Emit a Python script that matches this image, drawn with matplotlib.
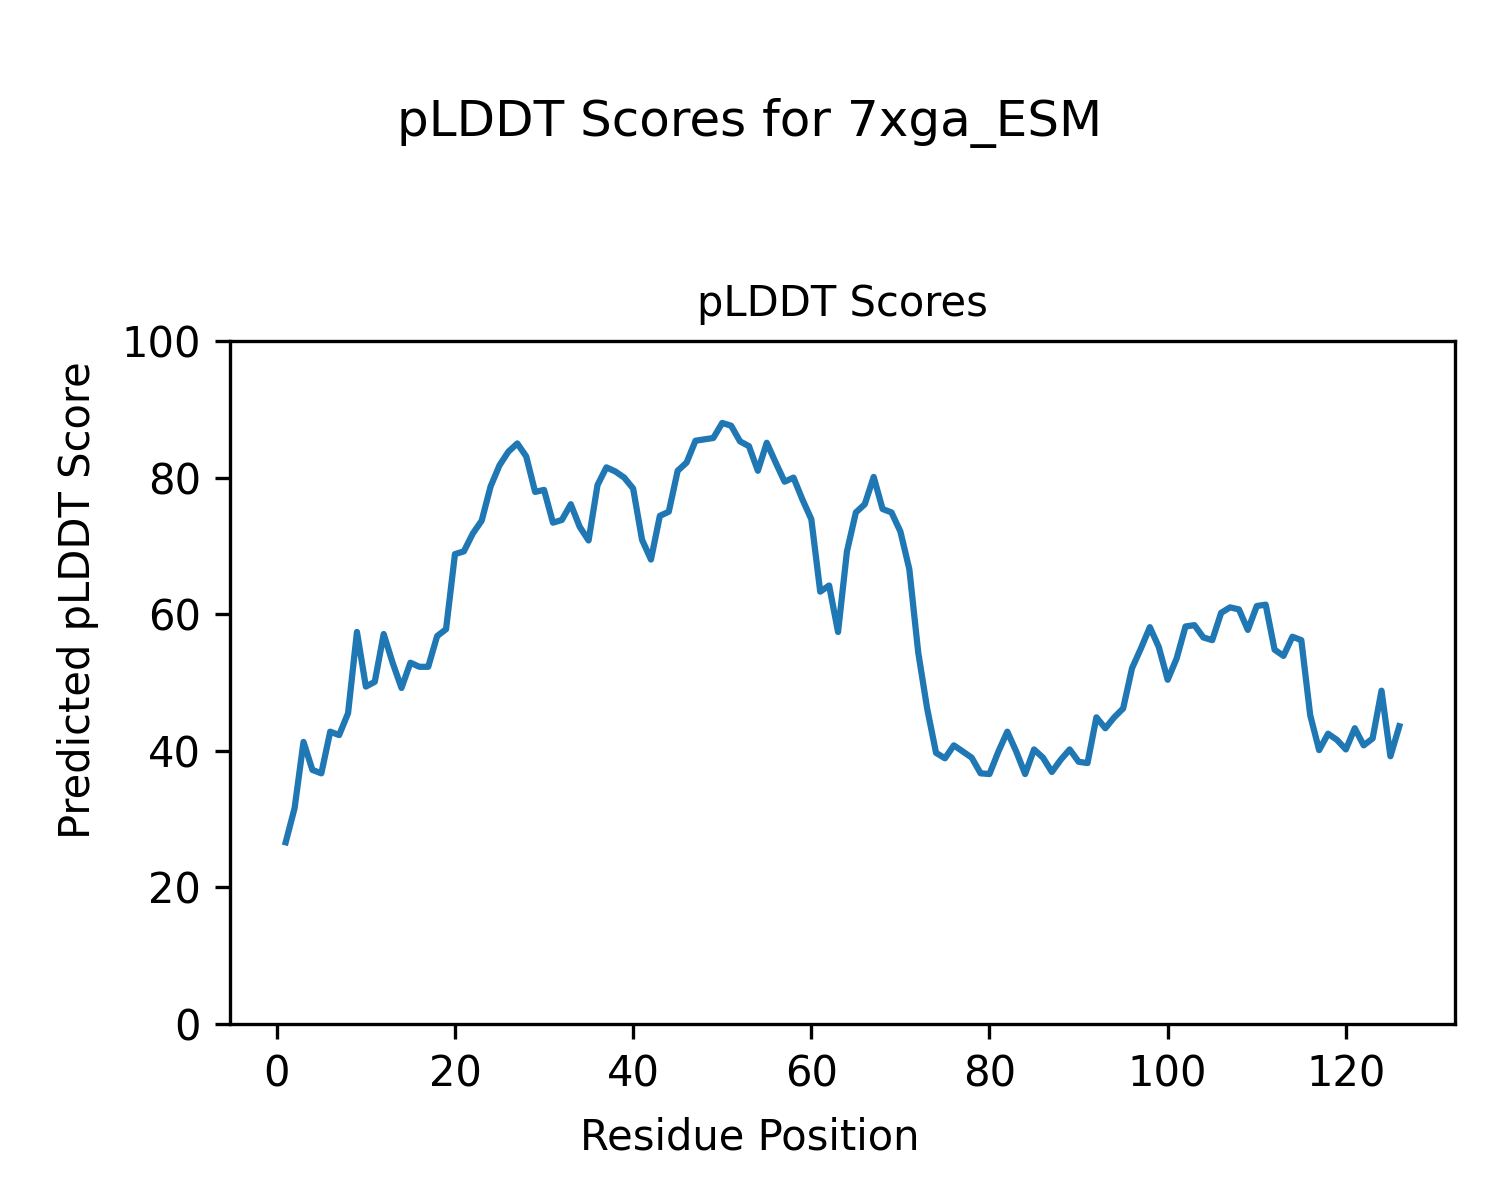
import matplotlib
matplotlib.use("Agg")
import matplotlib.pyplot as plt
import numpy as np

residues = list(range(1, 127))
plddt = [
    26.6, 31.6, 41.3, 37.2, 36.7, 42.8, 42.3, 45.5, 57.4, 49.4,
    50.1, 57.1, 52.9, 49.2, 52.9, 52.3, 52.3, 56.8, 57.8, 68.8,
    69.2, 71.8, 73.7, 78.7, 81.8, 83.8, 85.0, 83.1, 77.9, 78.2,
    73.4, 73.8, 76.1, 72.8, 70.8, 78.9, 81.5, 80.9, 80.0, 78.4,
    70.9, 68.0, 74.4, 75.0, 81.0, 82.2, 85.4, 85.6, 85.8, 88.0,
    87.6, 85.3, 84.6, 81.0, 85.1, 82.2, 79.4, 80.0, 76.8, 73.9,
    63.3, 64.2, 57.4, 69.2, 74.9, 76.1, 80.1, 75.4, 74.9, 72.1,
    66.6, 54.4, 46.2, 39.7, 38.9, 40.8, 39.9, 39.0, 36.7, 36.6,
    39.9, 42.8, 39.9, 36.6, 40.2, 39.0, 36.9, 38.7, 40.2, 38.4,
    38.2, 44.9, 43.3, 44.9, 46.2, 52.1, 55.0, 58.1, 55.2, 50.4,
    53.5, 58.2, 58.4, 56.6, 56.2, 60.2, 61.0, 60.7, 57.7, 61.2,
    61.4, 54.8, 53.9, 56.7, 56.2, 45.2, 40.1, 42.5, 41.6, 40.2,
    43.3, 40.8, 41.8, 48.8, 39.2, 43.6,
]

fig = plt.figure(figsize=(5, 4), dpi=300)
ax = fig.add_axes([230/1500, 1 - 1024/1200, (1455-230)/1500, (1024-341)/1200])
ax.plot(residues, plddt, color="#1f77b4", linewidth=1.5)
ax.set_ylim(0, 100)
ax.set_title("pLDDT Scores", fontsize=10)
fig.text(0.5, 1 - 1138/1200, "Residue Position", ha="center", va="center", fontsize=10)
fig.text(78/1500, 0.5, "Predicted pLDDT Score", ha="center", va="center",
         rotation=90, fontsize=10)
fig.suptitle("pLDDT Scores for 7xga_ESM", fontsize=12, y=1 - 98/1200, va="top")
fig.savefig("out.png", dpi=300)
